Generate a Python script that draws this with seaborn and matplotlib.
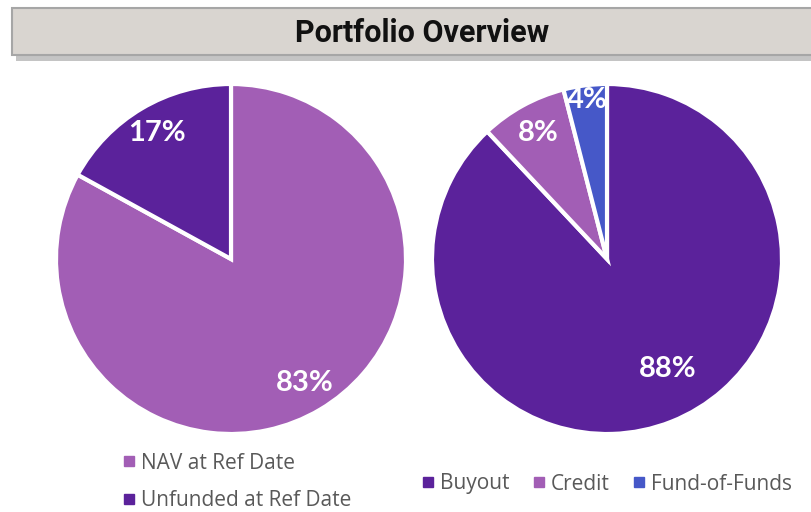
import matplotlib
matplotlib.use("Agg")
import numpy as np
import matplotlib.pyplot as plt
import seaborn as sns
from matplotlib.patches import Rectangle
from matplotlib.lines import Line2D

# Data
left_labels = ["NAV at Ref Date", "Unfunded at Ref Date"]
left_values = [83, 17]
right_labels = ["Buyout", "Credit", "Fund-of-Funds"]
right_values = [88, 8, 4]

DARK = "#5B229B"
LIGHT = "#A25EB5"
BLUE = "#4658C8"
left_colors = sns.color_palette([LIGHT, DARK])
right_colors = sns.color_palette([DARK, LIGHT, BLUE])

sns.set_theme(style="white")
plt.rcParams["font.family"] = ["Lato", "DejaVu Sans"]

W, H = 812, 512
fig = plt.figure(figsize=(W / 100, H / 100), dpi=100)

# title band with shadow
fig.patches.append(Rectangle((16 / W, 1 - 61 / H), 800 / W, 48 / H, transform=fig.transFigure,
                             facecolor="#9E9E9E", edgecolor="none", alpha=0.6, zorder=0))
fig.patches.append(Rectangle((12 / W, 1 - 55 / H), 810 / W, 47 / H, transform=fig.transFigure,
                             facecolor="#D9D5D0", edgecolor="#A6A6A6", linewidth=1.5, zorder=1))
fig.text(422 / W, 1 - 33 / H, "Portfolio Overview", ha="center", va="center",
         fontsize=22, fontweight="bold", family=["Roboto", "DejaVu Sans"],
         color="#111111", zorder=2)

R = 175


def draw_pie(cx, cy, values, colors, label_pos):
    ax = fig.add_axes([(cx - R) / W, 1 - (cy + R) / H, 2 * R / W, 2 * R / H])
    wedges, texts = ax.pie(values, colors=colors, startangle=90, counterclock=False,
                           wedgeprops=dict(edgecolor="white", linewidth=3))
    ax.set_xlim(-1, 1)
    ax.set_ylim(-1, 1)
    ax.set_aspect("equal")
    ax.axis("off")
    for w in wedges:
        w.set_clip_on(False)
    for w, v, (r, da) in zip(wedges, values, label_pos):
        ang = np.deg2rad((w.theta1 + w.theta2) / 2 + da)
        ax.text(r * np.cos(ang), r * np.sin(ang), f"{v}%", ha="center", va="center",
                color="white", fontsize=21, fontweight="bold")
    return ax


draw_pie(231, 259, left_values, left_colors, [(0.825, 0), (0.835, 0)])
draw_pie(607, 259, right_values, right_colors, [(0.72, 7.4), (0.82, 0), (0.915, 0)])

# legends
def handle(c):
    return Line2D([], [], marker="s", linestyle="none", markersize=7, color=c)

leg_font = {"family": ["Open Sans", "DejaVu Sans"], "size": 15}
fig.legend([handle(c) for c in left_colors], left_labels, loc="center left",
           bbox_to_anchor=(100 / W, 1 - 482 / H), frameon=False, ncol=1,
           prop=leg_font, labelcolor="#595959", handletextpad=0.08, labelspacing=0.8,
           handlelength=1.0)
fig.legend([handle(c) for c in right_colors], right_labels, loc="center left",
           bbox_to_anchor=(399 / W, 1 - 484 / H), frameon=False, ncol=3,
           prop=leg_font, labelcolor="#595959", handletextpad=0.08, columnspacing=0.9,
           handlelength=1.0)

fig.savefig("out.png", dpi=100, facecolor="white")
